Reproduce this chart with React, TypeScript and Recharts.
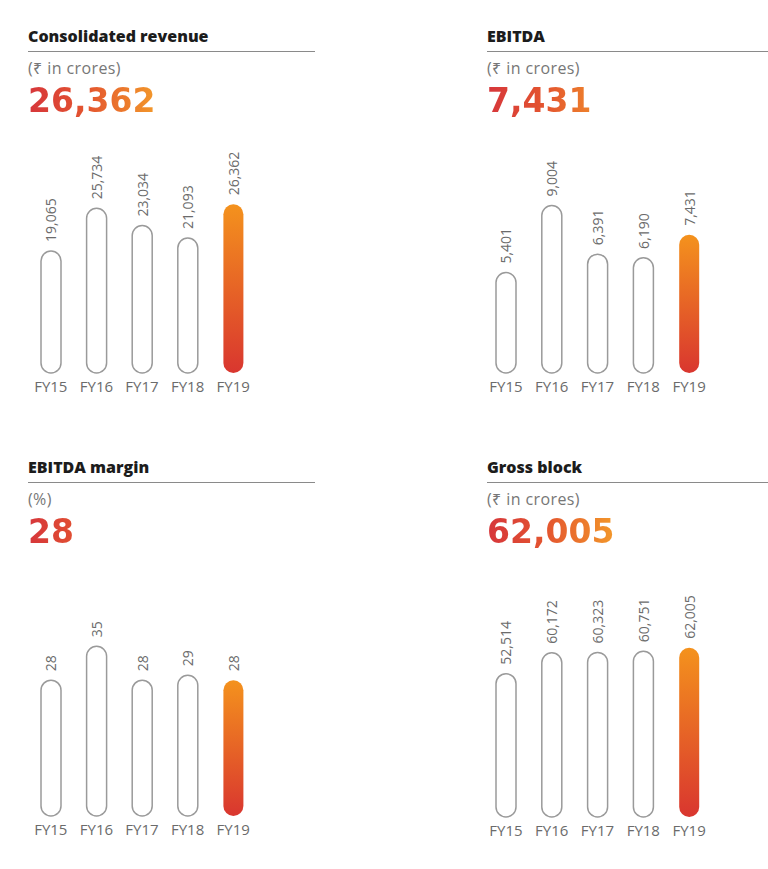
import { Bar, BarChart, Cell, LabelList, XAxis, YAxis } from 'recharts';

const years = ['FY15', 'FY16', 'FY17', 'FY18', 'FY19'];
const revenue = [19065, 25734, 23034, 21093, 26362];
const ebitda = [5401, 9004, 6391, 6190, 7431];
const ebitdaMargin = [28, 35, 28, 29, 28];
const grossBlock = [52514, 60172, 60323, 60751, 62005];

const TEXT_GREY = '#6b6b6b';
const OUTLINE = '#9a9a9a';

type PanelProps = {
  id: string;
  title: string;
  unit: string;
  headline: string;
  values: number[];
  max: number;
  left: number;
  top: number;
  ruleWidth: number;
  chartLeft: number;
  chartTop: number;
  chartWidth: number;
  plotHeight: number;
};

const formatValue = (v: number) => v.toLocaleString('en-US');

const renderValueLabel = (props: any) => {
  const { x, y, width, value } = props;
  const cx = Number(x) + Number(width) / 2;
  const ty = Number(y) - 9;
  return (
    <text
      x={cx}
      y={ty}
      transform={`rotate(-90, ${cx}, ${ty})`}
      textAnchor="start"
      dominantBaseline="central"
      fill={TEXT_GREY}
      fontSize={14}
      fontFamily="'Open Sans', sans-serif"
    >
      {formatValue(Number(value))}
    </text>
  );
};

const Panel = (p: PanelProps) => {
  const data = years.map((year, i) => ({ year, value: p.values[i] }));
  const gradId = `bar-grad-${p.id}`;
  const marginTop = 60;
  const axisHeight = 30;

  return (
    <>
      <div
        style={{
          position: 'absolute',
          left: p.left,
          top: p.top - 1,
          fontFamily: "'Open Sans', sans-serif",
          fontWeight: 800,
          fontSize: 16,
          lineHeight: 1,
          color: '#1c1c1c',
        }}
      >
        {p.title}
      </div>
      <div
        style={{
          position: 'absolute',
          left: p.left,
          top: p.top + 22,
          width: p.ruleWidth,
          height: 0,
          borderTop: '1.5px solid #8a8a8a',
        }}
      />
      <div
        style={{
          position: 'absolute',
          left: p.left,
          top: p.top + 31,
          fontFamily: "'Open Sans', 'Noto Sans', 'DejaVu Sans', sans-serif",
          fontSize: 16,
          lineHeight: 1,
          letterSpacing: 0.4,
          color: '#777',
        }}
      >
        {p.unit}
      </div>
      <div
        style={{
          position: 'absolute',
          left: p.left,
          top: p.top + 55,
          fontFamily: "'DejaVu Sans', sans-serif",
          fontWeight: 700,
          fontSize: 33,
          lineHeight: 1,
          background: 'linear-gradient(90deg, #d6363b 0px, #e4562f 60px, #f39a2a 130px)',
          backgroundSize: '130px 100%',
          backgroundRepeat: 'no-repeat',
          WebkitBackgroundClip: 'text',
          backgroundClip: 'text',
          WebkitTextFillColor: 'transparent',
          color: 'transparent',
        }}
      >
        {p.headline}
      </div>
      <div style={{ position: 'absolute', left: p.chartLeft, top: p.chartTop }}>
        <BarChart
          width={p.chartWidth}
          height={marginTop + p.plotHeight + axisHeight}
          data={data}
          margin={{ top: marginTop, right: 0, bottom: 0, left: 0 }}
        >
          <defs>
            <linearGradient id={gradId} x1="0" y1="0" x2="0" y2="1">
              <stop offset="0%" stopColor="#f4921d" />
              <stop offset="100%" stopColor="#d9362f" />
            </linearGradient>
          </defs>
          <XAxis
            dataKey="year"
            axisLine={false}
            tickLine={false}
            interval={0}
            height={axisHeight}
            tick={{ fill: TEXT_GREY, fontSize: 15, fontFamily: "'Open Sans', sans-serif" }}
          />
          <YAxis hide domain={[0, p.max]} />
          <Bar
            dataKey="value"
            barSize={20}
            radius={10}
            fill="#ffffff"
            stroke={OUTLINE}
            strokeWidth={1.5}
            isAnimationActive={false}
          >
            {data.map((d, i) => (
              <Cell
                key={d.year}
                fill={i === data.length - 1 ? `url(#${gradId})` : '#ffffff'}
                stroke={i === data.length - 1 ? 'none' : OUTLINE}
              />
            ))}
            <LabelList dataKey="value" content={renderValueLabel} />
          </Bar>
        </BarChart>
      </div>
    </>
  );
};

export default function App() {
  return (
    <div
      style={{
        position: 'absolute',
        left: 0,
        top: 0,
        width: 768,
        height: 869,
        background: '#ffffff',
        overflow: 'hidden',
      }}
    >
      <Panel
        id="rev"
        title="Consolidated revenue"
        unit="(₹ in crores)"
        headline="26,362"
        values={revenue}
        max={30000}
        left={28}
        top={29}
        ruleWidth={287}
        chartLeft={28}
        chartTop={121}
        chartWidth={228}
        plotHeight={192}
      />
      <Panel
        id="ebitda"
        title="EBITDA"
        unit="(₹ in crores)"
        headline="7,431"
        values={ebitda}
        max={10000}
        left={487}
        top={29}
        ruleWidth={281}
        chartLeft={483}
        chartTop={127}
        chartWidth={229}
        plotHeight={186}
      />
      <Panel
        id="margin"
        title="EBITDA margin"
        unit="(%)"
        headline="28"
        values={ebitdaMargin}
        max={40}
        left={28}
        top={460}
        ruleWidth={287}
        chartLeft={28}
        chartTop={562}
        chartWidth={228}
        plotHeight={194}
      />
      <Panel
        id="gross"
        title="Gross block"
        unit="(₹ in crores)"
        headline="62,005"
        values={grossBlock}
        max={70000}
        left={487}
        top={460}
        ruleWidth={281}
        chartLeft={483}
        chartTop={566}
        chartWidth={229}
        plotHeight={191}
      />
    </div>
  );
}
